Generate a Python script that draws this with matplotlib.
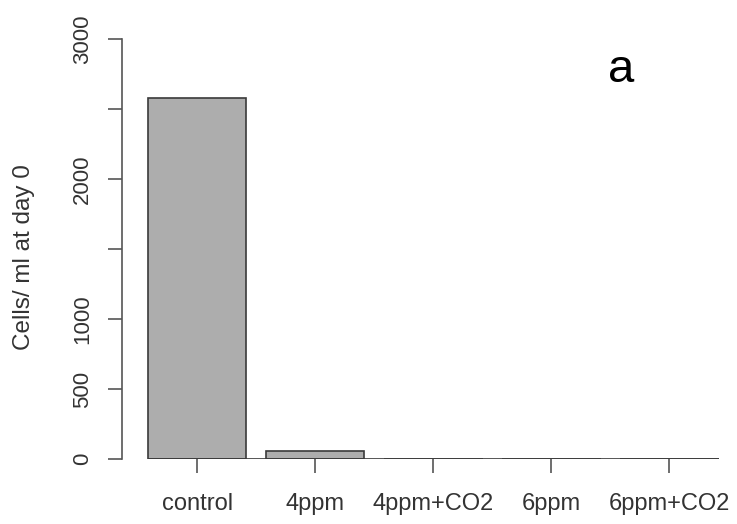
import numpy as np
import matplotlib
matplotlib.use("Agg")
import matplotlib.pyplot as plt

# data
groups = ["control", "4ppm", "4ppm+CO2", "6ppm", "6ppm+CO2"]
cells_day0 = [2580, 57, 0, 0, 0]
yticks = [0, 500, 1000, 1500, 2000, 2500, 3000]
ytick_labels = ["0", "500", "1000", "", "2000", "", "3000"]

plt.rcParams['font.family'] = ['Liberation Sans', 'DejaVu Sans']

W, H = 737, 524
fig = plt.figure(figsize=(W / 100, H / 100), dpi=100)
# plot region in pixels: left spine at x=122, y=0 at 459, y=3000 at 39
ax = fig.add_axes([122 / W, (H - 459) / H, (725 - 122) / W, (459 - 39) / H])

x = np.arange(len(groups))
width = 1 / 1.2
ax.bar(x, cells_day0, width=width, color="#ADADAD", edgecolor="#3a3a3a", linewidth=1.2)
ax.hlines(0, x[0] - width / 2, x[-1] + width / 2, color="#3a3a3a", linewidth=1.2)

ax.set_xlim(-0.636, 4.47)
ax.set_ylim(0, 3000)

for s in ["top", "right", "bottom"]:
    ax.spines[s].set_visible(False)
ax.spines["left"].set_color("#555555")
ax.spines["left"].set_linewidth(1.2)
ax.spines["left"].set_bounds(0, 3000)

ax.set_yticks(yticks)
ax.set_yticklabels(ytick_labels, rotation=90, va="center", fontsize=16, color="#333333")
ax.tick_params(axis="y", length=10, width=1.2, color="#555555", pad=11)

ax.set_xticks(x)
ax.set_xticklabels(groups, fontsize=17, color="#333333")
ax.tick_params(axis="x", length=10, width=1.2, color="#555555", pad=14.5, direction="out")

ax.set_ylabel("Cells/ ml at day 0", fontsize=17.5, color="#333333")
ax.yaxis.set_label_coords(-0.144, 0.481)
ax.text(0.8275, 0.8976, "a", transform=ax.transAxes, fontsize=34,
        ha="center", va="baseline", color="black")

fig.savefig("out.png", dpi=100)
